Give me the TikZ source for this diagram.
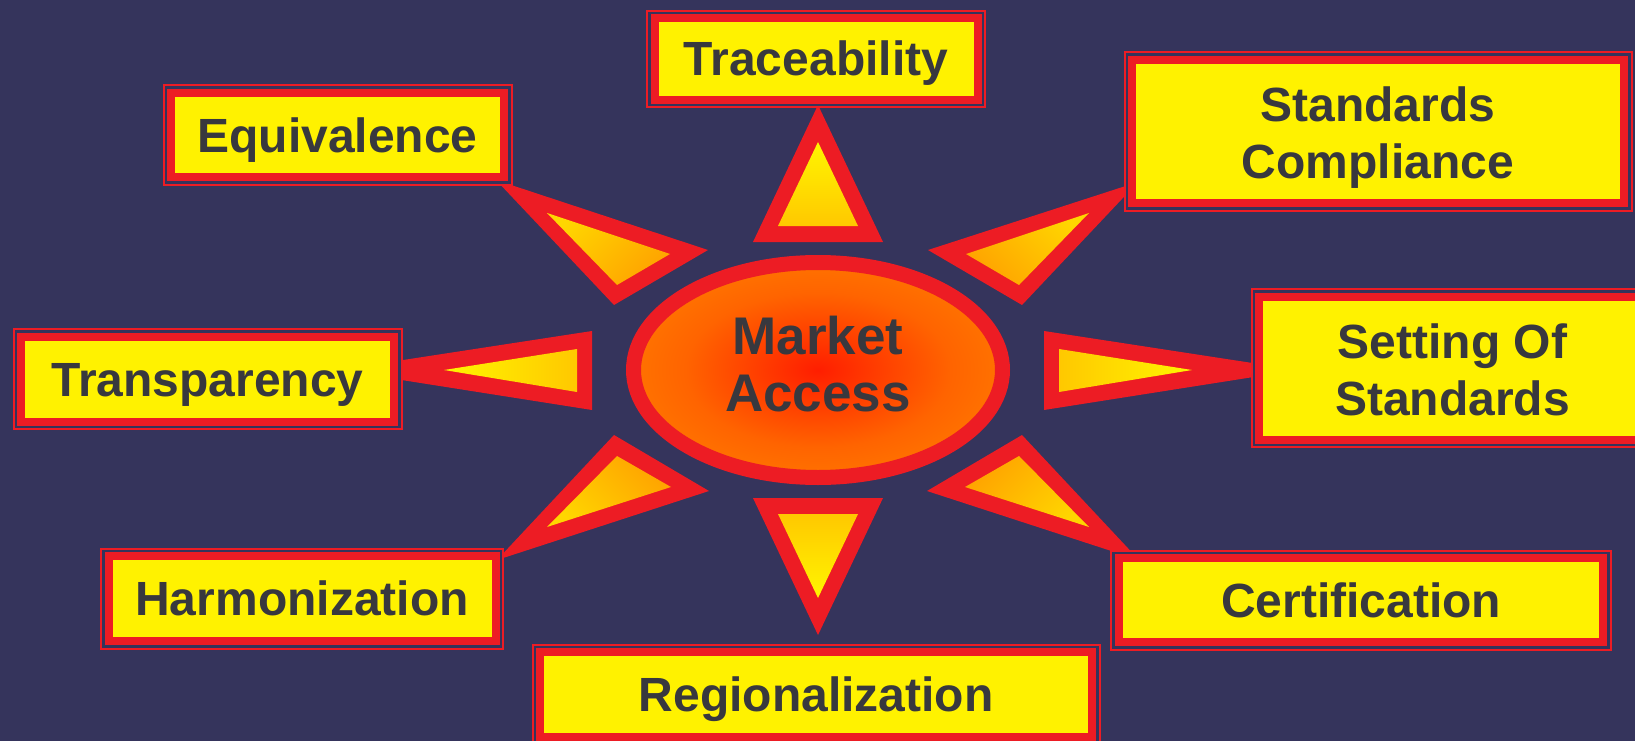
\documentclass[tikz,border=0pt]{standalone}
\usepackage{fontspec}
\setmainfont{Liberation Sans}
\usetikzlibrary{shapes.geometric}

\definecolor{bgnavy}{RGB}{53,52,92}
\definecolor{boxred}{RGB}{237,28,36}
\definecolor{boxyel}{RGB}{255,242,0}
\definecolor{inkgrey}{RGB}{56,56,62}
\definecolor{tipyel}{RGB}{255,245,0}
\definecolor{tipgold}{RGB}{255,200,0}
\definecolor{tipdeep}{RGB}{255,214,0}
\definecolor{tiporange}{RGB}{255,163,0}
\definecolor{hubcore}{RGB}{255,30,0}
\definecolor{hubmid}{RGB}{255,100,0}
\definecolor{hubrim}{RGB}{255,165,0}

\pgfdeclareradialshading{hubglow}{\pgfpoint{0bp}{0bp}}{color(0bp)=(hubcore); color(18bp)=(hubmid); color(50bp)=(hubrim)}

\tikzset{
  topic/.style={rectangle, fill=boxyel, draw=boxred, line width=8, text=inkgrey,
    font=\fontsize{48}{57}\selectfont\bfseries, align=center, inner sep=0,
    preaction={draw=boxred, line width=17},
    preaction={draw=bgnavy, line width=13}},
  oneline/.style={text height=34, text depth=0},
  twoline/.style={text height=94, text depth=0},
  hubstyle/.style={ellipse, draw=boxred, line width=15, shade, shading=hubglow,
    minimum width=369, minimum height=215, inner sep=0, text=inkgrey,
    font=\fontsize{53}{57}\selectfont\bfseries, align=center,
    text height=95, text depth=12},
  glowtri/.style n args={3}{top color=#1, bottom color=#2, shading angle=#3}
}

\begin{document}
\begin{tikzpicture}[x=1pt,y=-1pt]
\path[use as bounding box] (0,0) rectangle (1635,741);
\clip (0,0) rectangle (1635,741);
\fill[bgnavy] (0,0) rectangle (1635,741);

%Shape: Triangle [top]
\fill[boxred] (818,105) -- (753,242) -- (883,242) -- cycle;
\shade[glowtri={tipyel}{tipgold}{0}] (818,142) -- (778,226) -- (858,226) -- cycle;
%Shape: Triangle [bottom]
\fill[boxred] (818,635) -- (753,498) -- (883,498) -- cycle;
\shade[glowtri={tipyel}{tipgold}{180}] (818,598) -- (778,514) -- (858,514) -- cycle;
%Shape: Triangle [left]
\fill[boxred] (338,370) -- (592,331) -- (592,410) -- cycle;
\shade[glowtri={tipyel}{tipgold}{90}] (444,370) -- (577,349) -- (577,392) -- cycle;
%Shape: Triangle [right]
\fill[boxred] (1298,370) -- (1044,331) -- (1044,410) -- cycle;
\shade[glowtri={tipyel}{tipgold}{-90}] (1192,370) -- (1059,349) -- (1059,392) -- cycle;
%Shape: Triangle [upper left]
\fill[boxred] (496,180) -- (708,250) -- (614,305) -- cycle;
\shade[glowtri={tipdeep}{tiporange}{45}] (547,213) -- (670,254) -- (617,285) -- cycle;
%Shape: Triangle [upper right]
\fill[boxred] (1138,182) -- (928,250) -- (1022,305) -- cycle;
\shade[glowtri={tipdeep}{tiporange}{-45}] (1089,213) -- (966,254) -- (1019,285) -- cycle;
%Shape: Triangle [lower left]
\fill[boxred] (497,560) -- (709,491) -- (614,435) -- cycle;
\shade[glowtri={tipdeep}{tiporange}{135}] (547,527) -- (671,487) -- (617,456) -- cycle;
%Shape: Triangle [lower right]
\fill[boxred] (1139,560) -- (927,491) -- (1022,435) -- cycle;
\shade[glowtri={tipdeep}{tiporange}{-135}] (1089,527) -- (965,487) -- (1019,456) -- cycle;

%Boxes
\node[topic, oneline, minimum width=323, minimum height=81.5] (trace) at (816,59) {Traceability};
\node[topic, oneline, minimum width=333, minimum height=84.6] (equiv) at (337.5,135) {Equivalence};
\node[topic, twoline, minimum width=492, minimum height=143] (stdcomp) at (1378,131.5) {Standards\\Compliance};
\node[topic, oneline, minimum width=373, minimum height=85] (transp) at (207.5,379.2) {Transparency};
\node[topic, twoline, minimum width=386.4, minimum height=142.7] (setstd) at (1452.5,368.3) {Setting Of\\Standards};
\node[topic, oneline, minimum width=387, minimum height=85] (harmon) at (302,598.5) {Harmonization};
\node[topic, oneline, minimum width=484.5, minimum height=84] (certif) at (1361,600) {Certification};
\node[topic, oneline, minimum width=552, minimum height=85] (region) at (816,694.5) {Regionalization};

%Centre
\node[hubstyle] (hub) at (818,370) {Market\\Access};
\end{tikzpicture}
\end{document}
